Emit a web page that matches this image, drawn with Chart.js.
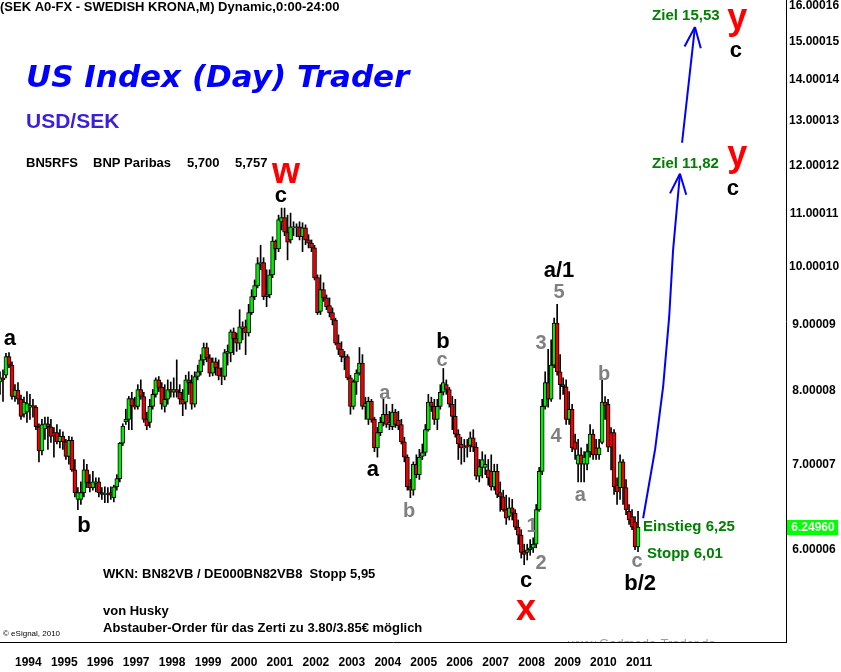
<!DOCTYPE html>
<html lang="de">
<head>
<meta charset="UTF-8">
<title>USD/SEK Monatschart</title>
<script src="https://cdn.jsdelivr.net/npm/chart.js@4.4.1/dist/chart.umd.min.js"></script>
<style>
  body { margin: 0; background: #fff; }
  #wrap { width: 841px; height: 672px; }
</style>
</head>
<body>
<div id="wrap"><canvas id="chart" width="841" height="672"></canvas></div>
<script>
// Monatskerzen USD/SEK, Index 0 = Aug 1993, letzter Balken = Mai 2011
const opens = [8.12,8.18,8.22,8.50,8.37,7.91,8.00,7.87,7.66,7.69,7.76,7.78,7.76,7.49,7.17,7.46,7.53,7.49,7.41,7.41,
  7.29,7.36,7.29,7.10,7.31,6.93,6.57,6.57,6.65,6.93,6.77,6.71,6.76,6.78,6.65,6.63,6.64,6.65,6.59,6.72,
  6.82,7.27,7.56,7.59,7.88,7.78,7.77,8.01,7.91,7.59,7.55,7.77,7.94,8.15,8.04,7.77,7.87,8.01,7.97,8.01,
  7.97,7.87,7.83,8.15,8.11,7.80,8.20,8.27,8.45,8.64,8.48,8.25,8.42,8.33,8.21,8.20,8.55,8.56,8.89,8.78,
  8.71,8.94,8.97,8.87,9.20,9.47,9.66,10.05,10.07,9.47,9.50,9.85,10.47,10.32,10.84,10.92,10.64,10.49,10.72,10.74,
  10.74,10.55,10.72,10.49,10.43,10.34,9.80,9.22,9.59,9.45,9.32,9.20,9.08,8.71,8.61,8.48,8.50,8.18,7.77,8.12,
  8.25,8.40,7.77,7.59,7.84,7.59,7.21,7.41,7.55,7.66,7.52,7.49,7.69,7.58,7.52,7.29,7.09,6.72,6.68,7.00,
  6.87,7.10,7.15,7.45,7.83,7.77,7.59,7.77,7.97,8.08,8.01,7.80,7.63,7.39,7.26,7.21,7.24,7.24,7.34,7.22,
  6.85,6.96,6.96,6.93,6.91,6.72,6.91,6.65,6.60,6.45,6.37,6.47,6.41,6.25,6.16,5.98,5.97,6.00,6.02,6.06,
  6.45,6.91,7.77,8.11,7.87,8.37,9.03,8.27,8.08,8.05,7.59,7.73,7.29,7.00,7.12,7.00,7.00,7.16,7.39,7.21,
  7.12,7.28,7.83,7.80,7.41,7.41,6.74,6.71,7.03,6.71,6.43,6.37,6.31,6.03];
const highs = [8.27,8.30,8.55,8.56,8.42,8.08,8.11,7.93,7.90,7.98,7.94,7.87,7.78,7.53,7.59,7.62,7.62,7.59,7.48,7.52,
  7.45,7.42,7.32,7.36,7.35,7.06,6.71,6.78,7.06,7.00,6.87,6.91,6.83,6.83,6.71,6.72,6.71,6.72,6.74,6.87,
  7.28,7.53,7.73,7.91,7.97,7.90,8.08,8.15,7.97,7.69,7.87,8.01,8.18,8.20,8.11,8.08,8.15,8.12,8.18,8.45,
  8.08,8.01,8.22,8.27,8.22,8.27,8.37,8.53,8.71,8.71,8.53,8.48,8.48,8.45,8.33,8.61,8.68,8.92,8.95,8.87,
  9.25,9.05,9.08,9.34,9.59,9.76,10.16,10.39,10.16,9.94,9.94,10.55,10.49,10.97,11.11,11.11,10.97,11.01,10.84,10.80,
  10.84,10.82,10.78,10.59,10.49,10.39,9.85,9.85,9.71,9.50,9.45,9.28,9.11,8.84,8.73,8.58,8.53,8.22,8.15,8.30,
  8.64,8.53,7.90,7.90,7.87,7.62,7.48,7.62,7.87,7.80,7.70,7.80,7.73,7.70,7.59,7.35,7.12,6.81,7.03,7.12,
  7.19,7.26,7.52,7.94,7.90,7.87,7.87,8.08,8.32,8.15,8.04,7.91,7.87,7.45,7.35,7.32,7.32,7.42,7.45,7.28,
  7.06,7.16,7.12,7.06,7.12,7.00,7.00,6.78,6.68,6.62,6.59,6.57,6.45,6.33,6.22,6.06,6.06,6.11,6.13,6.51,
  6.96,7.87,8.27,8.61,8.76,9.11,9.34,8.53,8.18,8.15,7.98,7.80,7.39,7.32,7.21,7.16,7.26,7.52,7.45,7.32,
  7.32,8.15,7.91,7.87,7.48,7.45,6.83,7.12,7.06,6.81,6.51,6.45,6.37,6.43];
const lows = [7.94,7.84,8.18,8.33,7.87,7.84,7.80,7.59,7.62,7.55,7.59,7.62,7.45,7.03,7.12,7.32,7.19,7.28,7.09,7.26,
  7.21,7.19,7.06,7.00,6.91,6.60,6.45,6.51,6.60,6.71,6.66,6.68,6.66,6.60,6.57,6.53,6.53,6.57,6.54,6.68,
  6.78,7.24,7.52,7.45,7.45,7.73,7.73,7.87,7.55,7.45,7.48,7.73,7.90,7.98,7.73,7.69,7.80,7.90,7.90,7.90,
  7.80,7.64,7.73,7.94,7.73,7.76,8.15,8.22,8.37,8.42,8.20,8.21,8.22,8.15,8.08,8.15,8.37,8.42,8.53,8.58,
  8.61,8.76,8.53,8.82,9.17,9.42,9.62,9.94,9.42,9.30,9.45,9.80,10.12,10.27,10.68,10.57,10.12,10.43,10.57,10.55,
  10.49,10.27,10.40,10.34,10.27,9.76,9.17,9.17,9.39,9.25,9.13,9.00,8.68,8.53,8.42,8.30,8.15,7.66,7.73,7.94,
  8.22,7.73,7.59,7.52,7.55,7.16,7.09,7.37,7.50,7.48,7.45,7.45,7.48,7.45,7.26,7.03,6.68,6.59,6.62,6.83,
  6.81,7.06,7.11,7.43,7.70,7.52,7.45,7.73,7.93,7.94,7.76,7.45,7.35,7.06,7.00,7.03,7.09,7.16,7.16,6.81,
  6.78,6.83,6.87,6.74,6.68,6.68,6.59,6.43,6.43,6.28,6.33,6.33,6.22,6.06,5.91,5.84,5.89,5.94,5.97,6.02,
  6.43,6.87,7.73,7.76,7.84,8.33,8.22,7.87,7.94,7.52,7.52,7.16,7.06,6.78,6.78,6.78,6.93,7.09,7.06,7.06,
  7.06,7.26,7.59,7.16,6.93,6.63,6.51,6.57,6.51,6.39,6.28,6.22,6.00,5.98];
const closes = [8.18,8.15,8.50,8.37,7.91,8.00,7.87,7.63,7.83,7.81,7.78,7.76,7.49,7.17,7.52,7.53,7.49,7.36,7.37,7.29,
  7.36,7.29,7.10,7.31,6.93,6.65,6.65,6.65,6.93,6.77,6.71,6.78,6.78,6.65,6.63,6.64,6.63,6.62,6.72,6.82,
  7.27,7.50,7.59,7.88,7.78,7.76,8.01,7.91,7.59,7.50,7.77,7.94,8.15,8.04,7.80,7.87,8.01,7.97,8.01,7.97,
  7.87,7.80,8.15,8.11,7.80,8.20,8.27,8.45,8.64,8.48,8.25,8.42,8.33,8.21,8.20,8.56,8.58,8.89,8.78,8.71,
  8.97,8.97,8.87,9.20,9.47,9.66,10.05,10.07,9.47,9.50,9.85,10.47,10.32,10.88,10.92,10.64,10.45,10.74,10.74,10.72,
  10.55,10.72,10.49,10.43,10.34,9.80,9.20,9.59,9.45,9.30,9.20,9.08,8.71,8.61,8.50,8.50,8.18,7.77,8.12,8.25,
  8.40,7.77,7.81,7.84,7.59,7.21,7.41,7.55,7.66,7.52,7.55,7.69,7.52,7.50,7.29,7.09,6.72,6.68,7.00,6.87,
  7.09,7.15,7.45,7.83,7.77,7.59,7.77,7.97,8.11,8.01,7.80,7.63,7.39,7.26,7.21,7.22,7.22,7.34,7.22,6.85,
  6.97,7.06,7.00,6.83,6.72,6.91,6.63,6.60,6.45,6.35,6.47,6.41,6.25,6.16,5.97,5.95,6.00,6.02,6.06,6.45,
  6.91,7.77,8.11,7.87,8.37,9.03,8.27,8.08,8.05,7.59,7.73,7.21,7.19,7.12,7.00,7.09,7.16,7.39,7.12,7.12,
  7.21,7.83,7.78,7.22,7.22,6.72,6.66,7.03,6.71,6.45,6.33,6.25,6.03,6.25];
const lastPrice = 6.24960;

// Achsen
const yearLabels = ['1994','1995','1996','1997','1998','1999','2000','2001','2002','2003','2004','2005','2006','2007','2008','2009','2010','2011'];
const yearTicks = [5,17,29,41,53,65,77,89,101,113,125,137,149,161,173,185,197,209];
const priceTicks = [6,7,8,9,10,11,12,13,14,15,16];
const priceTickLabels = ['6.00006','7.00007','8.00008','9.00009','10.00010','11.00011','12.00012','13.00013','14.00014','15.00015','16.00016'];

// Elliott-Wellen Beschriftung (Balkenindex, Kurs)
const waveText  = ['a','b','w','c','a','a','b','b','c','3','a/1','5','4','b','a','1','2','c','x','c','b/2','y','c','y','c'];
const waveKind  = ['main','main','red','main','sub','main','sub','main','sub','sub','main','sub','sub','sub','sub','sub','sub','main','red','sub','main','red','main','red','main'];
const waveIdx   = [3.3,28.0,95.5,93.8,128.5,124.5,136.6,147.9,147.6,180.6,186.6,186.6,185.6,201.7,193.7,177.6,180.6,175.6,175.6,212.7,213.7,246.1,245.7,246.1,244.7];
const wavePrice = [8.68,6.20,11.63,11.24,7.87,6.85,6.37,8.64,8.35,8.61,9.81,9.45,7.29,8.15,6.55,6.19,5.79,5.61,5.29,5.82,5.58,15.35,14.59,11.99,11.38];

// Ziele / Einstieg / Stopp
const noteText  = ['Ziel 15,53','Ziel 11,82','Einstieg 6,25','Stopp 6,01'];
const noteIdx   = [217.7,217.7,214.7,216.0];
const notePrice = [15.60,11.95,6.21,5.91];

// Pfeile
const arrowLowerIdx   = [214.7,218.7,221.4,223.4,224.7,227.0];
const arrowLowerPrice = [6.35,7.19,8.06,9.13,10.30,11.82];
const arrowUpperIdx   = [227.7,232.0];
const arrowUpperPrice = [12.50,15.40];

const FONT = "'Liberation Sans', Arial, sans-serif";
const WIDE = "'DejaVu Sans', Verdana, sans-serif";
const NARROW = "'Liberation Sans Narrow', 'Arial Narrow', 'Liberation Sans', sans-serif";

const kindStyle = {
  main: { font: 'bold 22px ' + FONT, color: '#000000' },
  sub:  { font: 'bold 20px ' + FONT, color: '#808080' },
  red:  { font: 'bold 36px ' + FONT, color: '#ff0000' }
};

function txt(ctx, s, x, y, font, color, align) {
  ctx.font = font;
  ctx.fillStyle = color;
  ctx.textAlign = align || 'left';
  ctx.textBaseline = 'alphabetic';
  ctx.fillText(s, x, y);
}

function arrow(ctx, xs, ys, x, y) {
  const pts = xs.map((k, i) => [x.getPixelForValue(k), y.getPixelForValue(ys[i])]);
  ctx.strokeStyle = '#0000ff';
  ctx.lineWidth = 2;
  ctx.beginPath();
  pts.forEach((p, i) => i ? ctx.lineTo(p[0], p[1]) : ctx.moveTo(p[0], p[1]));
  ctx.stroke();
  const tip = pts[pts.length - 1], prev = pts[pts.length - 2];
  const ang = Math.atan2(prev[1] - tip[1], prev[0] - tip[0]);
  ctx.beginPath();
  [-0.38, 0.38].forEach(d => {
    ctx.moveTo(tip[0], tip[1]);
    ctx.lineTo(tip[0] + 22 * Math.cos(ang + d), tip[1] + 22 * Math.sin(ang + d));
  });
  ctx.stroke();
}

const overlay = {
  id: 'overlay',
  afterDraw(chart) {
    const { ctx, chartArea, scales: { x, y } } = chart;
    ctx.save();

    // Kopfzeilen
    txt(ctx, '(SEK A0-FX - SWEDISH KRONA,M) Dynamic,0:00-24:00', 0, 11, 'bold 13px ' + FONT, '#000');
    txt(ctx, 'US Index (Day) Trader', 26, 87, 'italic bold 31px ' + WIDE, '#0000ff');
    txt(ctx, 'USD/SEK', 26, 128, 'bold 21px ' + FONT, '#3a1fe0');
    txt(ctx, 'BN5RFS', 26, 167, 'bold 13px ' + FONT, '#000');
    txt(ctx, 'BNP Paribas', 93, 167, 'bold 13px ' + FONT, '#000');
    txt(ctx, '5,700', 187, 167, 'bold 13px ' + FONT, '#000');
    txt(ctx, '5,757', 235, 167, 'bold 13px ' + FONT, '#000');

    txt(ctx, 'WKN: BN82VB / DE000BN82VB8  Stopp 5,95', 103, 578, 'bold 13px ' + FONT, '#000');
    txt(ctx, 'von Husky', 103, 615, 'bold 13px ' + FONT, '#000');
    txt(ctx, 'Abstauber-Order für das Zerti zu 3.80/3.85€ möglich', 103, 632, 'bold 13px ' + FONT, '#000');
    txt(ctx, '© eSignal, 2010', 3, 636, '8px ' + FONT, '#000');

    // Wasserzeichen, unten abgeschnitten
    ctx.save();
    ctx.beginPath();
    ctx.rect(chartArea.left, chartArea.top, chartArea.right - chartArea.left, chartArea.bottom - chartArea.top);
    ctx.clip();
    txt(ctx, 'www.Godmode-Trader.de', 568, 648, '13px ' + FONT, '#a0a0a0');
    ctx.restore();

    // Wellen
    waveText.forEach((t, i) => {
      const st = kindStyle[waveKind[i]];
      txt(ctx, t, x.getPixelForValue(waveIdx[i]), y.getPixelForValue(wavePrice[i]), st.font, st.color, 'center');
    });

    // Ziele
    noteText.forEach((t, i) => {
      txt(ctx, t, x.getPixelForValue(noteIdx[i]), y.getPixelForValue(notePrice[i]), 'bold 15px ' + FONT, '#008000');
    });

    arrow(ctx, arrowLowerIdx, arrowLowerPrice, x, y);
    arrow(ctx, arrowUpperIdx, arrowUpperPrice, x, y);

    // aktueller Kurs an der Achse
    const py = y.getPixelForValue(lastPrice);
    ctx.fillStyle = '#00ff00';
    ctx.fillRect(chartArea.right + 1, Math.round(py) - 7, 51, 15);
    ctx.font = 'bold 12px ' + FONT;
    ctx.fillStyle = '#ffffff';
    ctx.textAlign = 'center';
    ctx.textBaseline = 'middle';
    ctx.fillText(lastPrice.toFixed(5), chartArea.right + 27, py + 1);

    ctx.restore();
  }
};

const wickData = lows.map((l, i) => ({ x: i, y: [l, highs[i]] }));
const bodyData = opens.map((o, i) => ({ x: i, y: [o, closes[i]] }));
const bodyColors = opens.map((o, i) => closes[i] >= o ? '#00ee00' : '#ee0000');

new Chart(document.getElementById('chart'), {
  type: 'bar',
  data: {
    datasets: [
      { data: wickData, backgroundColor: '#000000', barThickness: 1, grouped: false, order: 2 },
      { data: bodyData, backgroundColor: bodyColors, borderColor: '#000000', borderWidth: 1,
        borderSkipped: false, barThickness: 4, grouped: false, order: 1 }
    ]
  },
  options: {
    responsive: false,
    animation: false,
    layout: { padding: 0 },
    plugins: { legend: { display: false }, tooltip: { enabled: false } },
    scales: {
      x: {
        type: 'linear',
        min: 0,
        max: 262.4,
        offset: false,
        grid: { display: false },
        border: { display: true, color: '#000', width: 1 },
        afterBuildTicks: s => { s.ticks = yearTicks.map(v => ({ value: v })); },
        afterFit: s => { s.height = 30; s.paddingLeft = 0; s.paddingRight = 0; },
        ticks: {
          align: 'start', padding: 5, color: '#000', autoSkip: false, maxRotation: 0,
          font: { family: NARROW, size: 12, weight: 'bold' },
          callback: (v, i) => yearLabels[i]
        }
      },
      y: {
        type: 'logarithmic',
        position: 'right',
        min: 5.08,
        max: 16.17,
        grid: { display: false },
        border: { display: true, color: '#000', width: 1 },
        afterBuildTicks: s => { s.ticks = priceTicks.map(v => ({ value: v })); },
        afterFit: s => { s.width = 55; s.paddingTop = 0; s.paddingBottom = 0; },
        ticks: {
          crossAlign: 'center', padding: -5, color: '#000',
          font: { family: FONT, size: 12, weight: 'bold' },
          callback: (v, i) => priceTickLabels[i]
        }
      }
    }
  },
  plugins: [overlay]
});
</script>
</body>
</html>
